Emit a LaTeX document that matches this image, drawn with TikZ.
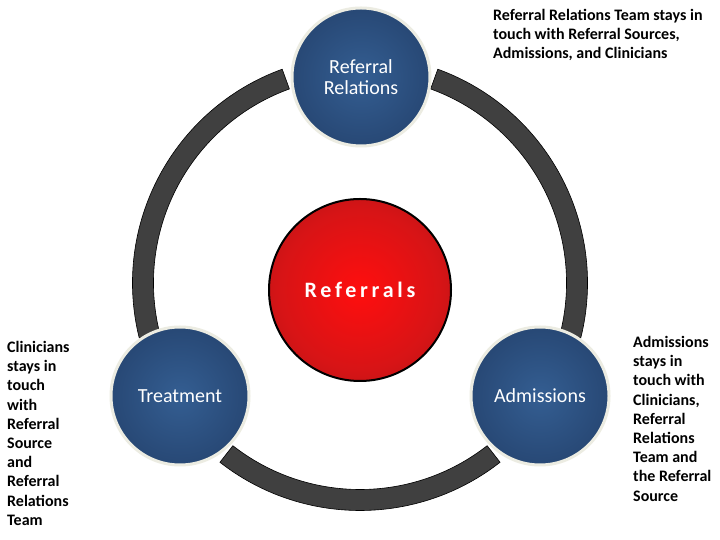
\documentclass[tikz,border=0pt]{standalone}
\usepackage{fontspec}
\setmainfont{Carlito}
\definecolor{ballin}{RGB}{52,94,146}
\definecolor{ballout}{RGB}{27,50,88}
\definecolor{redin}{RGB}{255,14,14}
\definecolor{redmid}{RGB}{215,20,22}
\definecolor{redout}{RGB}{130,18,22}
\definecolor{ringfill}{RGB}{64,64,64}
\definecolor{rimcol}{RGB}{236,236,226}
\pgfdeclareradialshading{blueball}{\pgfpoint{0bp}{0bp}}{color(0bp)=(ballin); color(50bp)=(ballout)}
\pgfdeclareradialshading{redball}{\pgfpoint{0bp}{0bp}}{color(0bp)=(redin); color(22bp)=(redmid); color(50bp)=(redout)}
\tikzset{
  ball/.style={circle, shading=blueball, draw=rimcol, line width=3pt, minimum size=138pt,
    inner sep=0pt, text=white, font=\fontsize{20}{21}\selectfont, align=center},
  hub/.style={circle, shading=redball, draw=black, line width=2pt, minimum size=182pt,
    inner sep=0pt, text=white, font=\bfseries\fontsize{22}{24}\selectfont\addfontfeature{LetterSpace=17}},
  note/.style={anchor=north west, inner sep=0pt, align=left, font=\bfseries\fontsize{16}{19.2}\selectfont},
  ringseg/.style={fill=ringfill, draw=black, line width=0.6pt}
}
\newcommand\ringpart[2]{%
  \draw[ringseg] ([shift={(#1:227.5pt)}]O) arc[start angle=#1, end angle=#2, radius=227.5pt]
    -- ([shift={(#2:206.5pt)}]O) arc[start angle=#2, end angle=#1, radius=206.5pt] -- cycle;}
\begin{document}
\begin{tikzpicture}[x=1pt,y=1pt]
  \path[fill=white] (0,0) rectangle (720,540);
  \useasboundingbox (0,0) rectangle (720,540);
  \coordinate (O) at (360,257);
  % ring segments
  \ringpart{70}{-14}
  \ringpart{110}{194}
  \ringpart{232}{308}
  % circles
  \node[hub] (R) at (360,250) {Referrals};
  \node[ball] (T) at (361,463) {Referral\\Relations};
  \node[ball] (C) at (180,144) {Treatment};
  \node[ball] (A) at (540,144) {Admissions};
  % notes
  \node[note] (nT) at (493,531) {Referral Relations Team stays in\\touch with Referral Sources,\\Admissions, and Clinicians};
  \node[note] (nC) at (7,199) {Clinicians\\stays in\\touch\\with\\Referral\\Source\\and\\Referral\\Relations\\Team};
  \node[note] (nA) at (633,204) {Admissions\\stays in\\touch with\\Clinicians,\\Referral\\Relations\\Team and\\the Referral\\Source};
\end{tikzpicture}
\end{document}
